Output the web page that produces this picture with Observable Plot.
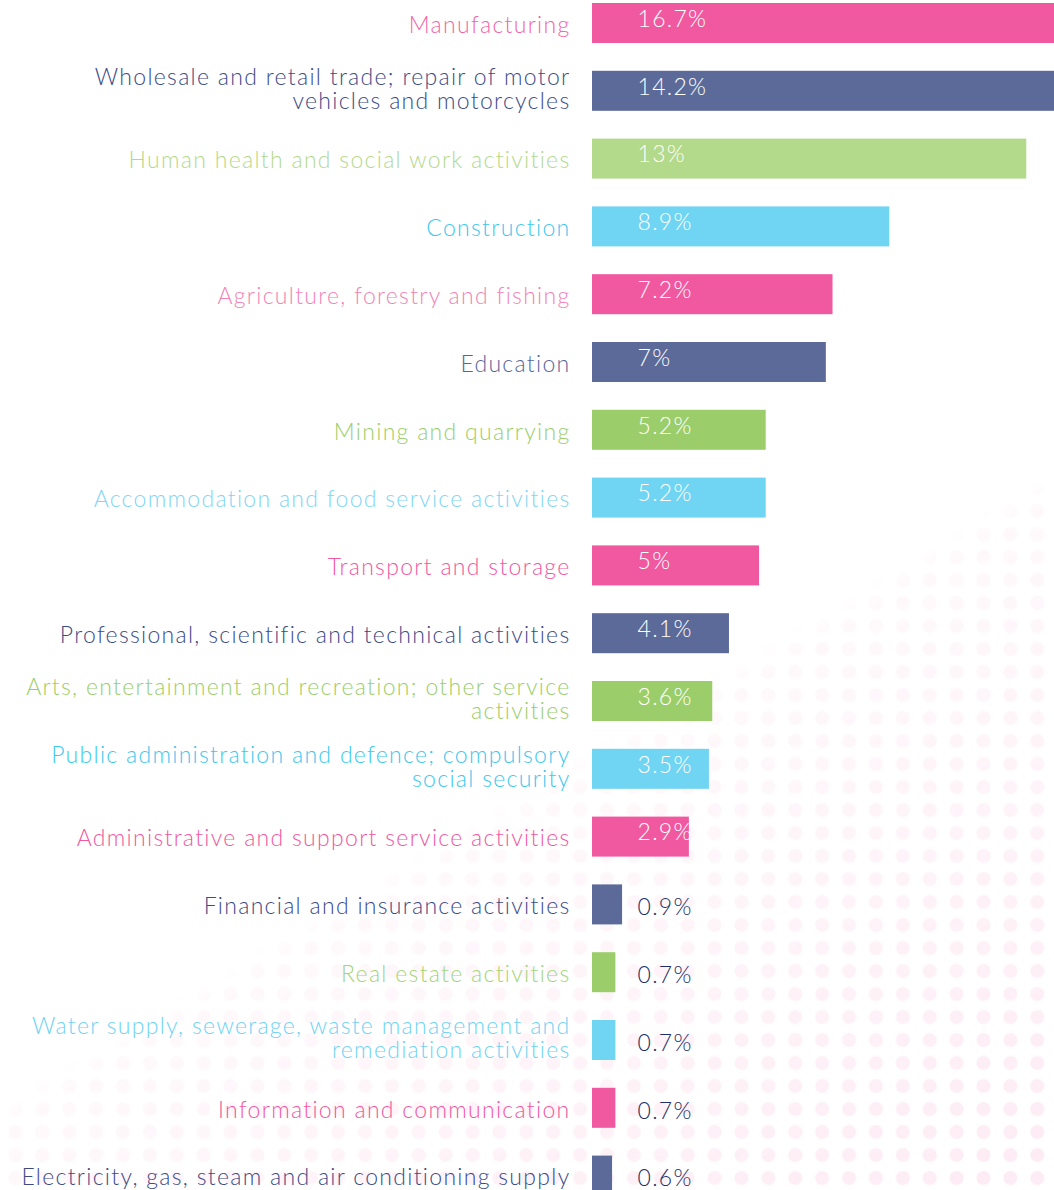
<!DOCTYPE html>
<html>
<head>
<meta charset="utf-8">
<script src="https://cdn.jsdelivr.net/npm/d3@7"></script>
<script src="https://cdn.jsdelivr.net/npm/@observablehq/plot@0.6"></script>
<style>
  html, body { margin: 0; padding: 0; background: #fff; overflow: hidden; }
  #wrap { position: relative; width: 1054px; height: 1190px; }
  #dots {
    position: absolute; left: 0; top: 0; width: 1054px; height: 1190px;
    background-image: radial-gradient(circle at center, rgba(240,88,159,0.12) 6.6px, rgba(240,88,159,0) 7.4px);
    background-size: 26.9px 23px;
    background-position: 2px -6.5px;
    -webkit-mask-image: linear-gradient(149deg, rgba(0,0,0,0) 60.5%, rgba(0,0,0,0.3) 62%, rgba(0,0,0,1) 100%);
    mask-image: linear-gradient(149deg, rgba(0,0,0,0) 60.5%, rgba(0,0,0,0.3) 62%, rgba(0,0,0,1) 100%);
  }
  #chart { position: absolute; left: 0; top: 0; }
  #chart svg { background: transparent; }
  #chart svg text { letter-spacing: 1.3px; }
</style>
</head>
<body>
<div id="wrap"><div id="dots"></div><div id="chart"></div></div>
<script>
const categories = [
  "Manufacturing",
  "Wholesale and retail trade; repair of motor\nvehicles and motorcycles",
  "Human health and social work activities",
  "Construction",
  "Agriculture, forestry and fishing",
  "Education",
  "Mining and quarrying",
  "Accommodation and food service activities",
  "Transport and storage",
  "Professional, scientific and technical activities",
  "Arts, entertainment and recreation; other service\nactivities",
  "Public administration and defence; compulsory\nsocial security",
  "Administrative and support service activities",
  "Financial and insurance activities",
  "Real estate activities",
  "Water supply, sewerage, waste management and\nremediation activities",
  "Information and communication",
  "Electricity, gas, steam and air conditioning supply"
];
const shares = [16.7, 14.2, 13, 8.9, 7.2, 7, 5.2, 5.2, 5, 4.1, 3.6, 3.5, 2.9, 0.9, 0.7, 0.7, 0.7, 0.6];

const barColors = ["#f0589f","#5b6a99","#b3d98b","#70d4f3","#f0589f","#5b6a99","#9bce6a","#70d4f3","#f0589f",
                   "#5b6a99","#9bce6a","#70d4f3","#f0589f","#5b6a99","#9bce6a","#70d4f3","#f0589f","#5b6a99"];
const labelColors = ["#f265a7","#3d4b85","#b3d98b","#3cc8ee","#f482b6","#56669a","#9bce6a","#7fd6f4","#f0589f",
                     "#3d4b85","#9bce6a","#3cc8ee","#f0589f","#3d4b85","#a5d47a","#6fd3f3","#f0589f","#3d4b85"];

const data = categories.map((c, i) => ({category: c, value: shares[i], bar: barColors[i], label: labelColors[i]}));
const inside = data.filter(d => d.value >= 2);
const outside = data.filter(d => d.value < 2);
const singleLine = data.filter(d => !d.category.includes("\n"));
const multiLine = data.filter(d => d.category.includes("\n"));

const font = "Lato, 'Open Sans', sans-serif";
const fs = 23;

const chart = Plot.plot({
  width: 1054,
  height: 1190,
  marginLeft: 592,
  marginRight: 0,
  marginTop: 0,
  marginBottom: 0,
  style: {fontFamily: font, background: "transparent"},
  x: {domain: [0, 13.83], clamp: true, axis: null},
  y: {domain: categories, range: [-24.8, 1223.4], padding: 0.41, round: false, axis: null},
  marks: [
    Plot.barX(data, {y: "category", x: "value", fill: d => d.bar}),
    Plot.text(singleLine, {
      y: "category", x: d => 0, dx: -22, text: "category", textAnchor: "end",
      fill: d => d.label, fontSize: fs, fontWeight: 300, dy: 2
    }),
    Plot.text(multiLine, {
      y: "category", x: d => 0, dx: -22, text: "category", textAnchor: "end",
      fill: d => d.label, fontSize: fs, fontWeight: 300, lineHeight: 1.05, dy: -2
    }),
    Plot.text(inside, {
      y: "category", x: d => 0, dx: 45, text: d => `${d.value}%`, textAnchor: "start",
      fill: "#ffffff", fontSize: fs, fontWeight: 300, dy: -4
    }),
    Plot.text(outside, {
      y: "category", x: d => 0, dx: 45, text: d => `${d.value}%`, textAnchor: "start",
      fill: "#1e2f66", fontSize: fs, fontWeight: 300, dy: 3
    })
  ]
});
document.getElementById("chart").appendChild(chart);
</script>
</body>
</html>
